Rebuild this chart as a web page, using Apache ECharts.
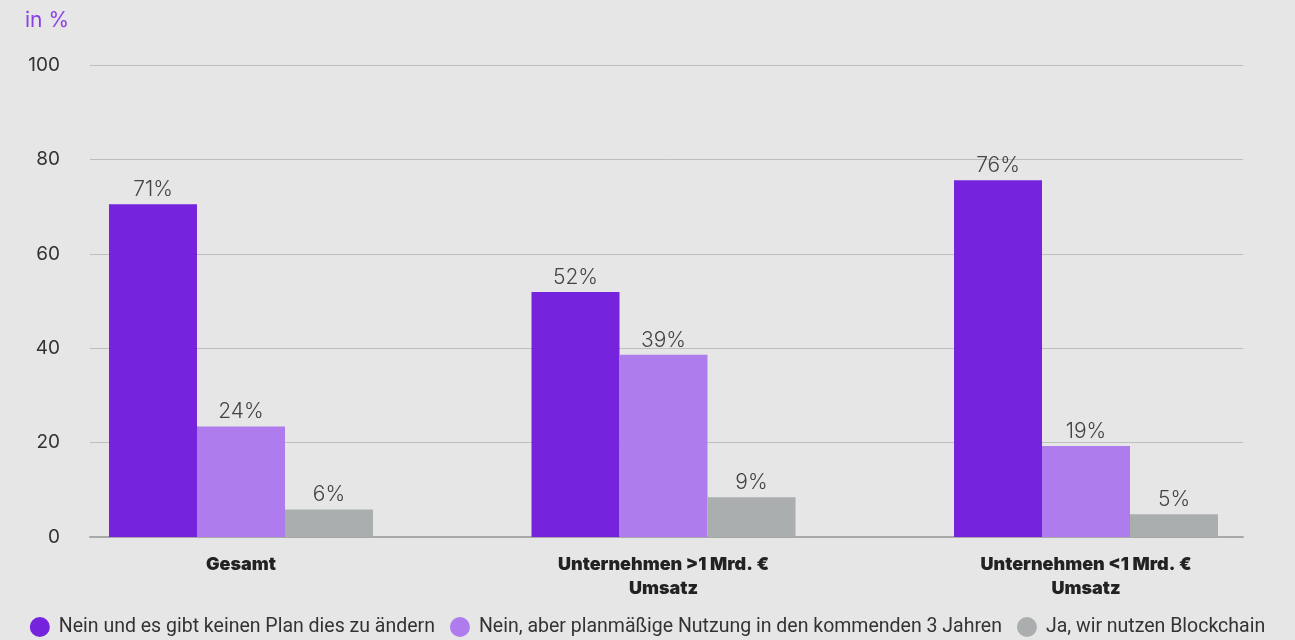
<!DOCTYPE html>
<html>
<head>
<meta charset="utf-8">
<script src="https://cdn.jsdelivr.net/npm/echarts@6/dist/echarts.min.js"></script>
<style>
html,body{margin:0;padding:0;background:#e6e6e6;}
#c{width:1295px;height:640px;}
</style>
</head>
<body>
<div id="c"></div>
<script>
const categories = ['Gesamt', 'Unternehmen >1 Mrd. €\nUmsatz', 'Unternehmen <1 Mrd. €\nUmsatz'];
const seriesNames = ['Nein und es gibt keinen Plan dies zu ändern', 'Nein, aber planmäßige Nutzung in den kommenden 3 Jahren', 'Ja, wir nutzen Blockchain'];
const noPlan = [70.5, 51.9, 75.6];
const planned = [23.4, 38.6, 19.3];
const yes = [5.8, 8.4, 4.8];
const noPlanLabels = ['71%', '52%', '76%'];
const plannedLabels = ['24%', '39%', '19%'];
const yesLabels = ['6%', '9%', '5%'];
const yTicks = [0, 20, 40, 60, 80, 100];

const colors = ['#7523DC', '#AE7CEC', '#ABAEAF'];
const chart = echarts.init(document.getElementById('c'));
const labelStyle = (arr) => ({
  show: true, position: 'top', distance: 4,
  fontFamily: 'Inter', fontWeight: 300, fontSize: 21, color: '#444',
  formatter: p => arr[p.dataIndex]
});
const mk = (name, data, labels, color) => ({
  name, type: 'bar', xAxisIndex: 1, yAxisIndex: 1, data,
  barWidth: 88, barGap: '0%',
  itemStyle: { color },
  label: labelStyle(labels)
});
chart.setOption({
  backgroundColor: '#e6e6e6',
  animation: false,
  color: colors,
  title: {
    text: 'in %', left: 20, top: 5,
    textStyle: { fontFamily: 'Inter', fontWeight: 400, fontSize: 21, color: '#8B3FE6' }
  },
  legend: {
    top: 612, left: 'center', itemWidth: 20, itemHeight: 20, icon: 'circle', itemGap: 15,
    textStyle: { fontFamily: 'Roboto', fontSize: 19.5, color: '#333', padding: [0, 0, 0, 4] },
    data: seriesNames
  },
  grid: [
    { left: 90, right: 52, top: 65, bottom: 103 },
    { left: 241, right: 209, top: 65, bottom: 103 }
  ],
  xAxis: [
    { type: 'category', gridIndex: 0, data: [''], axisLine: { lineStyle: { color: '#A8A8A8', width: 2 } }, axisTick: { show: false }, axisLabel: { show: false } },
    { type: 'category', gridIndex: 1, data: categories, boundaryGap: false, axisLine: { show: false }, axisTick: { show: false },
      axisLabel: { margin: 16, fontFamily: 'Inter', fontWeight: 900, fontSize: 18, color: '#222', lineHeight: 24 } }
  ],
  yAxis: [
    { type: 'value', gridIndex: 0, min: 0, max: 100, interval: 20,
      axisLabel: { margin: 30, fontFamily: 'Inter', fontSize: 19, color: '#333', formatter: v => yTicks.includes(v) ? String(v) : '' },
      splitLine: { lineStyle: { color: '#BDBDBD', width: 1 } },
      axisLine: { show: false }, axisTick: { show: false } },
    { type: 'value', gridIndex: 1, min: 0, max: 100, interval: 20, show: false, splitLine: { show: false } }
  ],
  series: [
    mk(seriesNames[0], noPlan, noPlanLabels, colors[0]),
    mk(seriesNames[1], planned, plannedLabels, colors[1]),
    mk(seriesNames[2], yes, yesLabels, colors[2])
  ]
});
</script>
</body>
</html>
